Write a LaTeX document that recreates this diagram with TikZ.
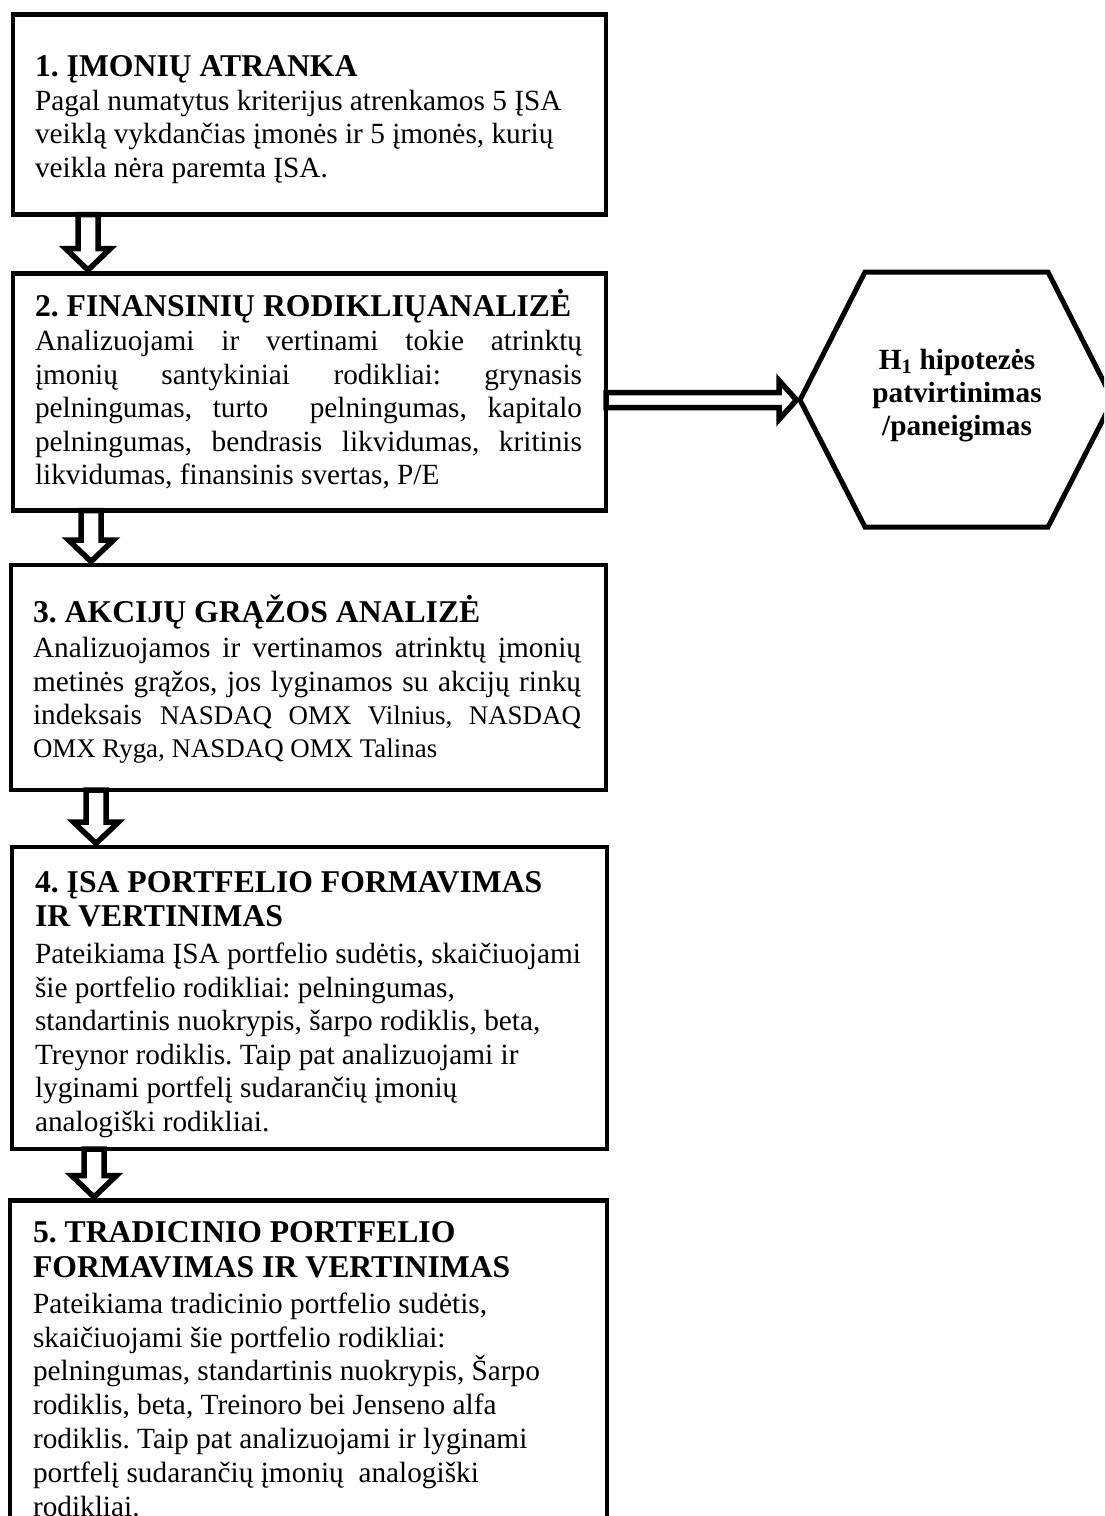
\documentclass[tikz,border=0pt]{standalone}
\usepackage{fontspec}
\setmainfont{Liberation Serif}[BoldFont={Liberation Serif Bold}]
\frenchspacing
\newcommand\bodyfont{\fontsize{29.3pt}{33.7pt}\selectfont}
\newcommand\titlefont{\fontsize{31.7pt}{36pt}\selectfont\bfseries}
\newcommand\smallfont{\fontsize{26.9pt}{31pt}\selectfont}
\newcommand\hexfont{\fontsize{29.3pt}{33.7pt}\selectfont\bfseries}
\tikzset{
  boxline/.style={draw, line width=4.5pt, line join=miter},
  stepbox/.style={boxline, anchor=north west, inner sep=0pt, outer sep=0pt},
  hexline/.style={draw, line width=5pt, line join=miter},
  hollowarrow/.style={draw, fill=white, line width=5.5pt, line join=miter, miter limit=10},
  ln/.style={anchor=base west, inner sep=0pt, outer sep=0pt, font=\bodyfont},
  ttl/.style={anchor=base west, inner sep=0pt, outer sep=0pt, font=\titlefont},
  hexln/.style={anchor=base, inner sep=0pt, outer sep=0pt, font=\hexfont},
}
\begin{document}
\begin{tikzpicture}[x=1pt,y=-1pt]
\useasboundingbox (0,0) rectangle (1104,1516);
\clip (0,0) rectangle (1104,1516);
\fill[white] (0,0) rectangle (1104,1516);

% boxes
\node[stepbox, minimum width=593pt, minimum height=200pt] (b1) at (13,14.5) {};
\node[stepbox, minimum width=593pt, minimum height=237pt] (b2) at (13,273.5) {};
\node[stepbox, minimum width=595pt, minimum height=225pt] (b3) at (11,565) {};
\node[stepbox, minimum width=595pt, minimum height=302pt] (b4) at (12,847) {};
\node[stepbox, minimum width=597pt, minimum height=420pt] (b5) at (10,1200.5) {};

% hexagon
\coordinate (hexl) at (800,400);
\draw[hexline] (hexl) -- (865,272) -- (1048,272) -- (1113,400) -- (1048,527) -- (865,527) -- cycle;

% vertical hollow arrows
\coordinate (a1s) at (88,0 |- b1.south);  \coordinate (a1e) at (88,0 |- b2.north);
\coordinate (a2s) at (91,0 |- b2.south);  \coordinate (a2e) at (91,0 |- b3.north);
\coordinate (a3s) at (96,0 |- b3.south);  \coordinate (a3e) at (96,0 |- b4.north);
\coordinate (a4s) at (94,0 |- b4.south);  \coordinate (a4e) at (94,0 |- b5.north);
\foreach \s/\e in {a1s/a1e,a2s/a2e,a3s/a3e,a4s/a4e}{
  \draw[hollowarrow] ([xshift=-10pt]\s) -- ([xshift=-10pt,yshift=25pt]\e)
    -- ([xshift=-22.5pt,yshift=25pt]\e) -- ([yshift=3.5pt]\e)
    -- ([xshift=22.5pt,yshift=25pt]\e) -- ([xshift=10pt,yshift=25pt]\e)
    -- ([xshift=10pt]\s) -- cycle;
}

% horizontal hollow arrow
\coordinate (h1s) at (b2.east |- hexl);
\draw[hollowarrow] ([yshift=7.5pt]h1s) -- ([xshift=-21pt,yshift=7.5pt]hexl)
  -- ([xshift=-21pt,yshift=19.5pt]hexl) -- ([xshift=-3.5pt]hexl)
  -- ([xshift=-21pt,yshift=-19.5pt]hexl) -- ([xshift=-21pt,yshift=-7.5pt]hexl)
  -- ([yshift=-7.5pt]h1s) -- cycle;

% box 1
\node[ttl] (t1h) at (35,76) {1. ĮMONIŲ ATRANKA};
\node[ln] (t1a) at (35,110) {Pagal numatytus kriterijus atrenkamos 5 ĮSA};
\node[ln] (t1b) at (35,143.5) {veiklą vykdančias įmonės ir 5 įmonės, kurių};
\node[ln] (t1c) at (35,177.5) {veikla nėra paremta ĮSA.};

% box 2
\node[ttl] (t2h) at (35,316.5) {2. FINANSINIŲ RODIKLIŲANALIZĖ};
\node[ln] (t2a) at (35,350.5) {\makebox[547pt][s]{Analizuojami ir vertinami tokie atrinktų}};
\node[ln] (t2b) at (35,384) {\makebox[547pt][s]{įmonių santykiniai rodikliai: grynasis}};
\node[ln] (t2c) at (35,417.5) {\makebox[547pt][s]{pelningumas, turto\ \ pelningumas, kapitalo}};
\node[ln] (t2d) at (35,451) {\makebox[547pt][s]{pelningumas, bendrasis likvidumas, kritinis}};
\node[ln] (t2e) at (35,484.5) {likvidumas, finansinis svertas, P/E};

% box 3
\node[ttl] (t3h) at (33,622) {3. AKCIJŲ GRĄŽOS ANALIZĖ};
\node[ln] (t3a) at (33,657) {\makebox[548pt][s]{Analizuojamos ir vertinamos atrinktų įmonių}};
\node[ln] (t3b) at (33,691) {\makebox[548pt][s]{metinės grąžos, jos lyginamos su akcijų rinkų}};
\node[ln] (t3c) at (33,724.5) {\makebox[548pt][s]{indeksais {\smallfont NASDAQ OMX Vilnius, NASDAQ}}};
\node[ln] (t3d) at (33,757.5) {\smallfont OMX Ryga, NASDAQ OMX Talinas};

% box 4
\node[ttl] (t4h) at (35,892) {4. ĮSA PORTFELIO FORMAVIMAS};
\node[ttl] (t4i) at (35,926.5) {IR VERTINIMAS};
\node[ln] (t4a) at (35,963) {Pateikiama ĮSA portfelio sudėtis, skaičiuojami};
\node[ln] (t4b) at (35,997) {šie portfelio rodikliai: pelningumas,};
\node[ln] (t4c) at (35,1030.5) {standartinis nuokrypis, šarpo rodiklis, beta,};
\node[ln] (t4d) at (35,1064) {Treynor rodiklis. Taip pat analizuojami ir};
\node[ln] (t4e) at (35,1097.5) {lyginami portfelį sudarančių įmonių};
\node[ln] (t4f) at (35,1131) {analogiški rodikliai.};

% box 5
\node[ttl] (t5h) at (33,1242.5) {5. TRADICINIO PORTFELIO};
\node[ttl] (t5i) at (33,1277.5) {FORMAVIMAS IR VERTINIMAS};
\node[ln] (t5a) at (33,1313) {Pateikiama tradicinio portfelio sudėtis,};
\node[ln] (t5b) at (33,1347) {skaičiuojami šie portfelio rodikliai:};
\node[ln] (t5c) at (33,1380.5) {pelningumas, standartinis nuokrypis, Šarpo};
\node[ln] (t5d) at (33,1414) {rodiklis, beta, Treinoro bei Jenseno alfa};
\node[ln] (t5e) at (33,1448) {rodiklis. Taip pat analizuojami ir lyginami};
\node[ln] (t5f) at (33,1482) {portfelį sudarančių įmonių\ \ analogiški};
\node[ln] (t5g) at (33,1516.5) {rodikliai.};

% hexagon text
\node[hexln] (hx1) at (957,369) {H\textsubscript{1} hipotezės};
\node[hexln] (hx2) at (957,402) {patvirtinimas};
\node[hexln] (hx3) at (957,435) {/paneigimas};
\end{tikzpicture}
\end{document}
